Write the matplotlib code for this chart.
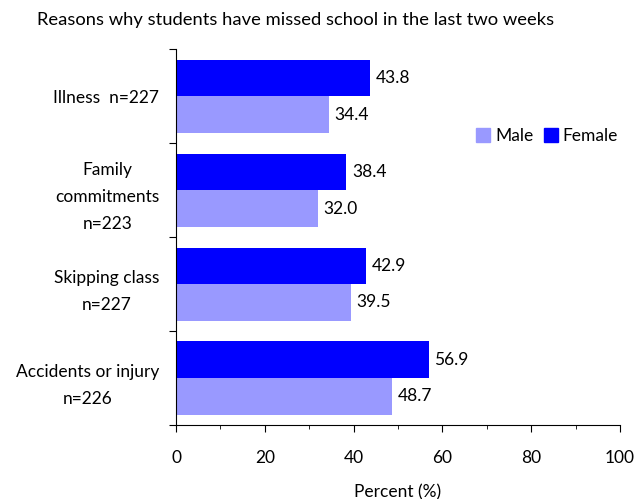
import matplotlib
matplotlib.use("Agg")
import matplotlib.pyplot as plt
from matplotlib.ticker import MultipleLocator, FixedLocator, NullFormatter
from matplotlib.patches import Patch

categories = ["Illness  n=227", "Family\ncommitments\nn=223", "Skipping class\nn=227", "Accidents or injury\nn=226"]
female = [43.8, 38.4, 42.9, 56.9]
male = [34.4, 32.0, 39.5, 48.7]
xticks = [0, 20, 40, 60, 80, 100]

plt.rcParams['font.family'] = ['Lato', 'DejaVu Sans']
FS = 12.5
c_f = "#0000FF"
c_m = "#9999FF"

fig = plt.figure(figsize=(6.38, 4.99), dpi=100)
ax = fig.add_axes([176/638, 1-425/499, (620-176)/638, (425-49.5)/499])

y = list(range(len(categories)))
h = 0.39
yf = [i - h/2 for i in y]
ym = [i + h/2 for i in y]
ax.barh(yf, female, height=h, color=c_f, label="Female")
ax.barh(ym, male, height=h, color=c_m, label="Male")

for yy, v in zip(yf, female):
    ax.text(v + 1.2, yy, f"{v:.1f}", va="center", ha="left", fontsize=FS)
for yy, v in zip(ym, male):
    ax.text(v + 1.2, yy, f"{v:.1f}", va="center", ha="left", fontsize=FS)

ax.set_xlim(0, 100)
ax.set_ylim(len(categories) - 0.5, -0.5)

ax.spines['top'].set_visible(False)
ax.spines['right'].set_visible(False)

ax.xaxis.set_major_locator(FixedLocator(xticks))
ax.xaxis.set_minor_locator(MultipleLocator(10))
ax.set_xticklabels([str(t) for t in xticks], fontsize=FS)
ax.tick_params(axis='x', which='major', direction='out', length=5, pad=13)
ax.tick_params(axis='x', which='minor', direction='out', length=3)

ax.yaxis.set_major_locator(FixedLocator([i - 0.5 for i in range(len(categories) + 1)]))
ax.yaxis.set_major_formatter(NullFormatter())
ax.yaxis.set_minor_locator(FixedLocator(y))
ax.set_yticklabels(categories, minor=True, fontsize=FS, multialignment='center', linespacing=1.85)
ax.tick_params(axis='y', which='major', direction='out', length=5)
ax.tick_params(axis='y', which='minor', length=0, pad=12)

ax.set_xlabel("Percent (%)", fontsize=FS, labelpad=13)

handles = [Patch(color=c_m, label="Male"), Patch(color=c_f, label="Female")]
fig.legend(handles=handles, loc="center", bbox_to_anchor=(547/638, 1-136/499), ncol=2,
           frameon=False, fontsize=FS, handlelength=0.8, handleheight=0.8,
           handletextpad=0.3, columnspacing=0.6, borderpad=0)

fig.text(37/638, 1-20/499, "Reasons why students have missed school in the last two weeks",
         ha="left", va="center", fontsize=13.2)

fig.savefig("out.png", dpi=100)
